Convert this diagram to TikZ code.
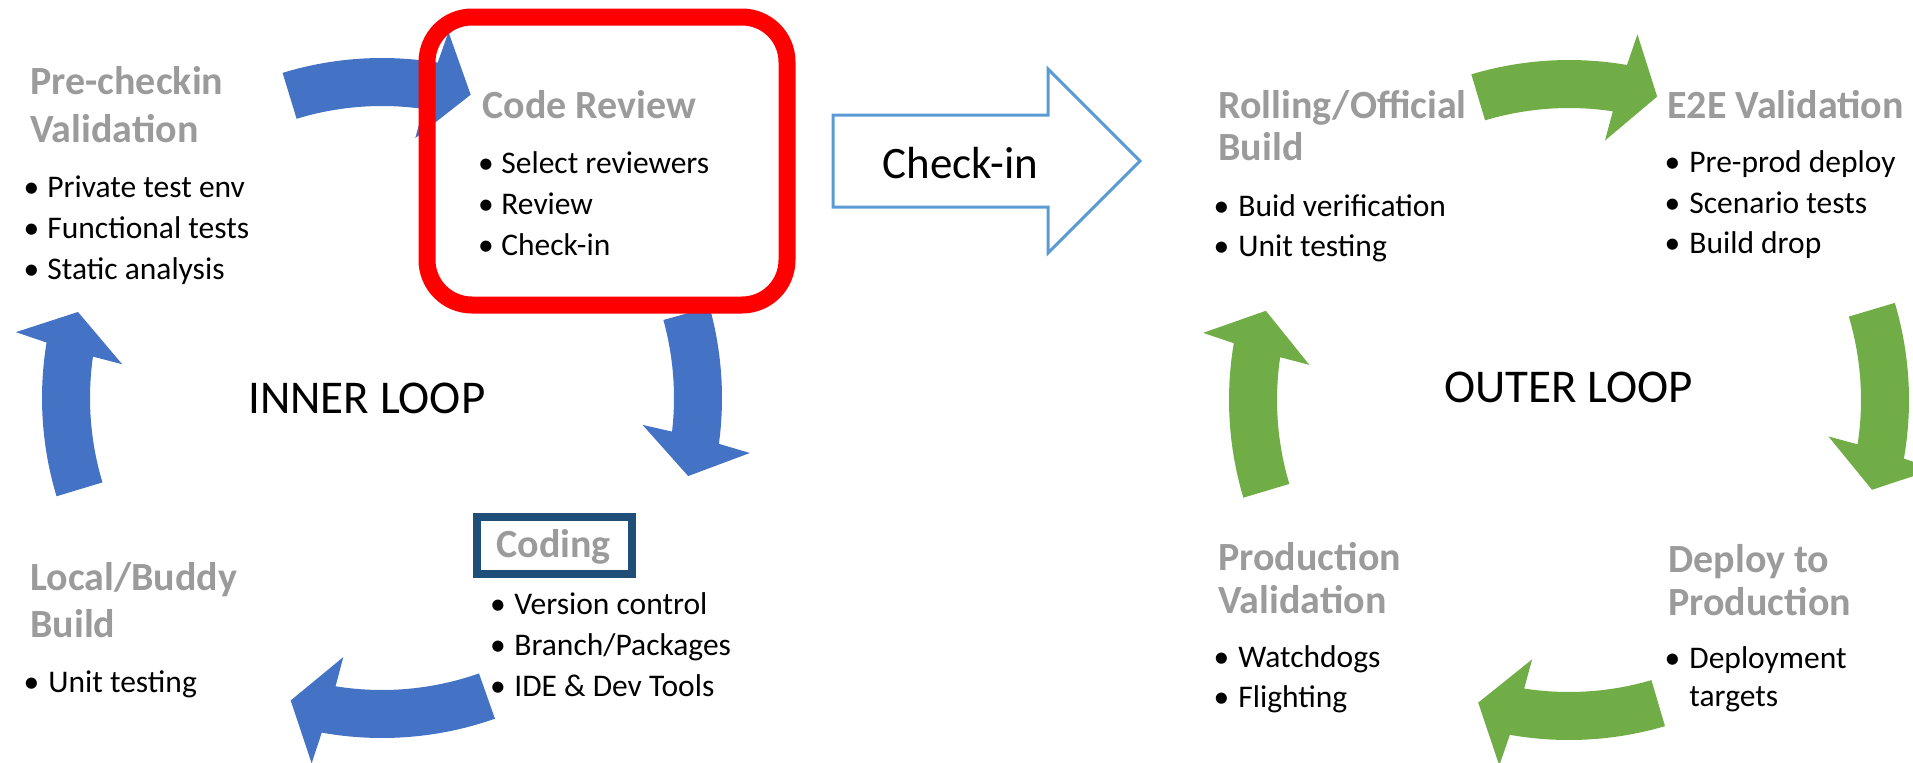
\documentclass[tikz,border=0pt]{standalone}
\usepackage{fontspec}
\setmainfont{Carlito}
\definecolor{loopblue}{HTML}{4472C4}
\definecolor{loopgreen}{HTML}{70AD47}
\definecolor{arrowline}{HTML}{5B9BD5}
\definecolor{codingblue}{HTML}{1F4E79}
\definecolor{headgray}{RGB}{155,155,155}
% circular block arrow: #1 centre, #2 tail angle, #3 inner head-base angle,
% #4 outer head-base angle, #5 tip angle, #6 fill colour
\newcommand{\loopArrow}[6]{%
  \begin{scope}[shift={#1}, yscale=-1]
    \pgfmathsetmacro{\lpBi}{#3+0.27*(#4-(#3))}
    \pgfmathsetmacro{\lpBo}{#3+0.71*(#4-(#3))}
    \fill[#6] (#2:340) arc[start angle=#2, end angle=\lpBo, radius=340]
      -- (#4:372) -- (#5:316) -- (#3:262) -- (\lpBi:292)
      arc[start angle=\lpBi, end angle=#2, radius=292] -- cycle;
  \end{scope}}
\newcommand{\bitem}[5]{%
  \node[bul] (#1b) at (#2,#4) {•};
  \node[itemtxt] (#1) at (#3,#4) {#5};}
\tikzset{
  headtxt/.style={anchor=base west, inner sep=0pt, font=\fontsize{20}{24}\selectfont\bfseries, text=headgray},
  itemtxt/.style={anchor=base west, inner sep=0pt, font=\fontsize{15.75}{19}\selectfont},
  bul/.style={anchor=base, inner sep=0pt, font=\fontsize{15.75}{19}\selectfont},
  looptxt/.style={anchor=base west, inner sep=0pt, font=\fontsize{23.5}{28}\selectfont},
}
\begin{document}
\begin{tikzpicture}[x=0.5pt, y=-0.5pt]
\useasboundingbox (0,0) rectangle (1913,762);

% ---------- inner loop arrows ----------
\loopArrow{(382,398)}{107}{82.7}{79.7}{73.7}{loopblue}
\loopArrow{(382,398)}{15.5}{-5.9}{-8.5}{-14.3}{loopblue}
\loopArrow{(382,398)}{-70.6}{-98.5}{-100.9}{-106.8}{loopblue}
\loopArrow{(382,398)}{196.8}{172.6}{169.8}{164.2}{loopblue}

% ---------- outer loop arrows ----------
\loopArrow{(1569,400)}{106.7}{82.1}{79.4}{73.8}{loopgreen}
\loopArrow{(1569,400)}{16.6}{-8.0}{-10.7}{-16.5}{loopgreen}
\loopArrow{(1569,400)}{-73.6}{-98.1}{-100.8}{-106.7}{loopgreen}
\loopArrow{(1569,400)}{196.7}{172.3}{169.6}{163.6}{loopgreen}

% ---------- boxes ----------
\node[draw=red, line width=8.5pt, rounded corners=22.5pt, minimum width=180pt,
      minimum height=144pt, inner sep=0pt] (crbox) at (607,161) {};
\node[draw=codingblue, line width=4pt, minimum width=77.5pt, minimum height=28.5pt,
      inner sep=0pt] (codbox) at (554.5,545.5) {};

% ---------- check-in arrow ----------
\draw[arrowline, line width=1.5pt, line join=miter]
  (833,115) -- (1048,115) -- (1048,69) -- (1140,161) -- (1048,253) -- (1048,207) -- (833,207) -- cycle;
\node[anchor=base west, inner sep=0pt, font=\fontsize{22.5}{27}\selectfont] (checkin) at (882,178) {Check-in};

% ---------- loop labels ----------
\node[looptxt] (inner) at (248,413) {INNER LOOP};
\node[looptxt] (outer) at (1444,402) {OUTER LOOP};

% ---------- Pre-checkin Validation ----------
\node[headtxt] (pch1) at (30,94) {Pre-checkin};
\node[headtxt] (pch2) at (30,142) {Validation};
\bitem{pc1}{31.5}{47}{197}{Private test env}
\bitem{pc2}{31.5}{47}{238}{Functional tests}
\bitem{pc3}{31.5}{47}{279}{Static analysis}

% ---------- Code Review ----------
\node[headtxt] (crh) at (482,118) {Code Review};
\bitem{cr1}{486}{501}{173}{Select reviewers}
\bitem{cr2}{486}{501}{214}{Review}
\bitem{cr3}{486}{501}{255}{Check-in}

% ---------- Coding ----------
\node[headtxt] (codh) at (496,557) {Coding};
\bitem{cd1}{498}{514}{614}{Version control}
\bitem{cd2}{498}{514}{655}{Branch/Packages}
\bitem{cd3}{498}{514}{696}{IDE \& Dev Tools}

% ---------- Local/Buddy Build ----------
\node[headtxt] (lbh1) at (30,590) {Local/Buddy};
\node[headtxt] (lbh2) at (30,637) {Build};
\bitem{lb1}{31.5}{48}{692}{Unit testing}

% ---------- Rolling/Official Build ----------
\node[headtxt] (rbh1) at (1218,118) {Rolling/Official};
\node[headtxt] (rbh2) at (1218,160) {Build};
\bitem{rb1}{1221.5}{1238}{216}{Buid verification}
\bitem{rb2}{1221.5}{1238}{256}{Unit testing}

% ---------- E2E Validation ----------
\node[headtxt] (e2h) at (1667,118) {E2E Validation};
\bitem{e21}{1672.5}{1689}{172}{Pre-prod deploy}
\bitem{e22}{1672.5}{1689}{213}{Scenario tests}
\bitem{e23}{1672.5}{1689}{253}{Build drop}

% ---------- Deploy to Production ----------
\node[headtxt] (dph1) at (1668,572) {Deploy to};
\node[headtxt] (dph2) at (1668,615) {Production};
\bitem{dp1}{1672.5}{1689}{668}{Deployment}
\node[itemtxt] (dp1b2) at (1689,706) {targets};

% ---------- Production Validation ----------
\node[headtxt] (pvh1) at (1218,570) {Production};
\node[headtxt] (pvh2) at (1218,613) {Validation};
\bitem{pv1}{1221.5}{1238}{667}{Watchdogs}
\bitem{pv2}{1221.5}{1238}{707}{Flighting}
\end{tikzpicture}
\end{document}
